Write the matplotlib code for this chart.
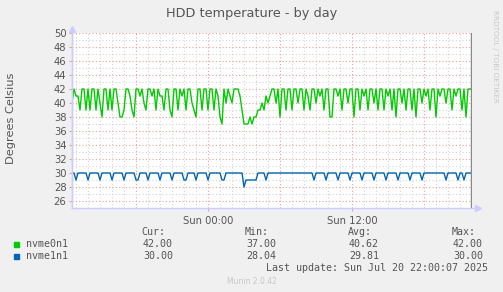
import numpy as np
import matplotlib.pyplot as plt
from matplotlib.patches import Rectangle

# samples every 10 minutes, hours relative to Sun 00:00
t_start = -11.333
step = 1 / 6

nvme0n1 = [
    40, 42, 41, 41, 39, 42, 42, 39, 42, 39,
    42, 42, 39, 42, 40, 38, 42, 42, 39, 42,
    39, 42, 42, 40, 38, 38, 39, 42, 42, 41,
    39, 38, 42, 42, 41, 42, 40, 39, 42, 42,
    41, 42, 39, 42, 41, 41, 39, 42, 42, 39,
    38, 42, 42, 39, 42, 41, 42, 39, 42, 42,
    40, 39, 38, 42, 42, 39, 42, 42, 39, 42,
    42, 39, 42, 41, 38, 37, 42, 40, 42, 41,
    40, 42, 42, 42, 41, 39, 37, 37, 37, 38,
    37, 38, 38, 39, 39, 40, 39, 41, 40, 41,
    42, 42, 40, 42, 38, 42, 42, 39, 42, 42,
    39, 42, 42, 40, 42, 42, 39, 42, 41, 39,
    42, 42, 40, 42, 41, 42, 39, 42, 42, 38,
    38, 42, 42, 41, 42, 39, 42, 42, 40, 42,
    42, 38, 42, 42, 39, 42, 41, 42, 39, 42,
    42, 40, 42, 39, 42, 42, 39, 42, 41, 42,
    39, 42, 38, 42, 42, 40, 42, 39, 42, 42,
    39, 42, 38, 42, 42, 40, 42, 41, 42, 39,
    42, 42, 38, 42, 41, 42, 42, 40, 42, 42,
    39, 42, 41, 42, 42, 39, 42, 38, 42, 42,
    42,
]

nvme1n1 = [
    30, 30, 29, 30, 30, 30, 30, 30, 29, 30, 30, 30, 30, 30, 29, 30, 30, 30, 30, 30,
    29, 30, 30, 30, 30, 30, 29, 30, 30, 30, 30, 30, 29, 29, 30, 30, 30, 30, 29, 30,
    30, 30, 30, 30, 29, 30, 30, 30, 30, 30, 29, 30, 30, 30, 30, 30, 29, 29, 30, 30,
    30, 30, 29, 30, 30, 30, 30, 30, 29, 30, 30, 30, 30, 30, 30, 29, 29, 30, 30, 30,
    30, 30, 30, 30, 30, 30, 28, 29, 29, 29, 29, 29, 29, 30, 30, 30, 30, 29, 30, 30,
    30, 30, 30, 30, 30, 30, 30, 30, 30, 30, 30, 30, 30, 30, 30, 30, 30, 30, 30, 30,
    30, 29, 30, 30, 30, 30, 30, 29, 30, 30, 30, 30, 30, 29, 30, 30, 30, 30, 30, 29,
    30, 30, 30, 30, 30, 29, 30, 30, 30, 30, 30, 29, 30, 30, 30, 30, 30, 29, 30, 30,
    30, 30, 30, 29, 30, 30, 30, 30, 30, 29, 30, 30, 30, 30, 30, 29, 30, 30, 30, 30,
    30, 30, 30, 30, 30, 30, 30, 29, 30, 30, 30, 30, 30, 29, 30, 30, 29, 30, 30, 30,
    30,
]

series_names = ["nvme0n1", "nvme1n1"]
series_colors = ["#00cc00", "#0066b3"]
cur_vals = ["42.00", "30.00"]
min_vals = ["37.00", "28.04"]
avg_vals = ["40.62", "29.81"]
max_vals = ["42.00", "30.00"]

y_ticks = list(range(26, 51, 2))
x_major = [0, 12]
x_major_labels = ["Sun 00:00", "Sun 12:00"]

txt = "#555555"
axis_col = "#ccccff"
mono = "DejaVu Sans Mono"

fig = plt.figure(figsize=(5.03, 2.92), dpi=100, facecolor="#f0f0f0")
W, H = 503, 292
ax = fig.add_axes([72 / W, 84.5 / H, 400 / W, 174.5 / H])
ax.set_facecolor("white")

t = t_start + step * np.arange(len(nvme0n1))
xmin, xmax = t_start, t_start + step * (len(nvme0n1) - 1)
ylo, yhi = 25.07, 50
ax.set_xlim(xmin, xmax)
ax.set_ylim(ylo, yhi)

# grid: minor grey dotted, major pink dotted
for h in range(-11, 22):
    col = "#e8a0a0" if h % 6 == 0 else "#d4d4d4"
    ax.axvline(h, color=col, lw=0.8, ls=(0, (1, 2)), zorder=1)
for v in range(26, 51):
    col = "#e8a0a0" if v % 2 == 0 else "#d4d4d4"
    ax.axhline(v, color=col, lw=0.8, ls=(0, (1, 2)), zorder=1)

for vals, c in zip([nvme0n1, nvme1n1], series_colors):
    ax.plot(t, vals, color=c, lw=1.0, zorder=3)

ax.axvline(xmax - 0.05, color="#888888", lw=1.0, zorder=4)

for s in ["top", "right", "bottom"]:
    ax.spines[s].set_visible(False)
ax.spines["left"].set_color(axis_col)
ax.spines["left"].set_linewidth(1.0)

# axis lines extending past the plot, with arrow heads
ax.plot([xmin, xmin], [ylo, yhi + 0.6], color=axis_col, lw=1.0, clip_on=False, zorder=5)
ax.plot([xmin], [yhi + 0.55], marker="^", ms=4, color=axis_col, clip_on=False, zorder=5)
ax.plot([xmin, xmax + 0.5], [ylo, ylo], color=axis_col, lw=1.0, clip_on=False, zorder=5)
ax.plot([xmax + 0.5], [ylo], marker=">", ms=4, color=axis_col, clip_on=False, zorder=5)

ax.set_yticks(y_ticks)
ax.set_yticklabels([str(v) for v in y_ticks])
ax.set_xticks(x_major)
ax.set_xticklabels(x_major_labels)
ax.tick_params(axis="both", colors="#e8a0a0", labelcolor=txt, labelsize=7.2,
               length=2, width=0.8, pad=2)
ax.tick_params(axis="x", pad=4)

fig.text(252 / W, 1 - 14 / H, "HDD temperature - by day", ha="center", va="center",
         fontsize=9.3, color=txt)
fig.text(11 / W, 1 - 118 / H, "Degrees Celsius", rotation=90, ha="center", va="center",
         fontsize=8.2, color=txt)
fig.text(495 / W, 1 - 10 / H, "RRDTOOL / TOBI OETIKER", rotation=270, ha="center", va="top",
         fontsize=5.2, color="#c8c8c8")

# legend table
fig.text(165 / W, 1 - 232 / H, "Cur:", ha="right", va="center", fontsize=7.2, family=mono, color=txt)
fig.text(269 / W, 1 - 232 / H, "Min:", ha="right", va="center", fontsize=7.2, family=mono, color=txt)
fig.text(372 / W, 1 - 232 / H, "Avg:", ha="right", va="center", fontsize=7.2, family=mono, color=txt)
fig.text(476 / W, 1 - 232 / H, "Max:", ha="right", va="center", fontsize=7.2, family=mono, color=txt)
for k, name in enumerate(series_names):
    y = 1 - (244 + 12 * k) / H
    fig.add_artist(Rectangle((14 / W, y - 2.5 / H), 5 / W, 5 / H, color=series_colors[k],
                             transform=fig.transFigure))
    fig.text(26 / W, y, name, ha="left", va="center", fontsize=7.2, family=mono, color=txt)
    for xr, col in zip([173, 276, 379, 483], [cur_vals, min_vals, avg_vals, max_vals]):
        fig.text(xr / W, y, col[k], ha="right", va="center", fontsize=7.2, family=mono, color=txt)
fig.text(488 / W, 1 - 268 / H, "Last update: Sun Jul 20 22:00:07 2025", ha="right", va="center",
         fontsize=7.2, family=mono, color=txt)
fig.text(252 / W, 1 - 281 / H, "Munin 2.0.42", ha="center", va="center", fontsize=5.5,
         color="#c8c8c8")

fig.savefig("out.png", dpi=100, facecolor=fig.get_facecolor())
